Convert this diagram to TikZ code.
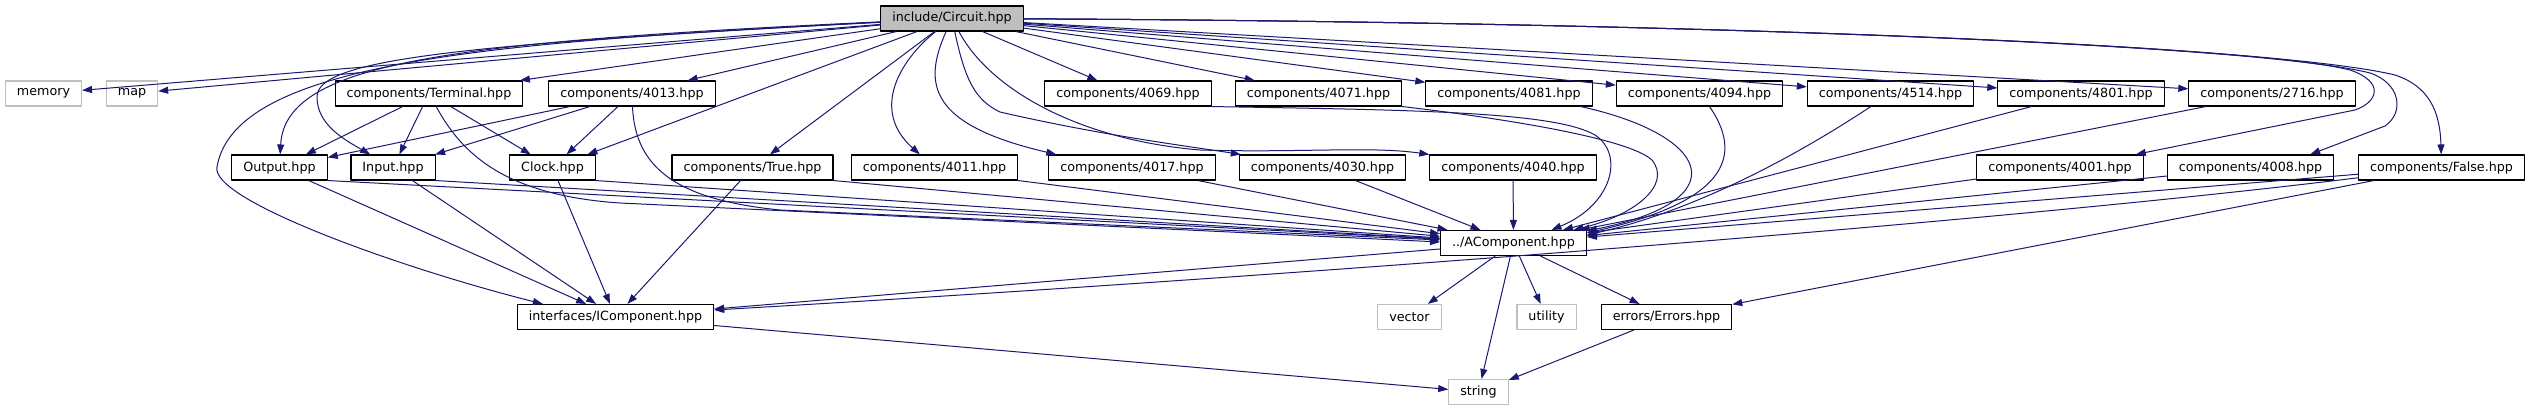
\documentclass[tikz,border=0pt]{standalone}
\usepackage{fontspec}
\setmainfont{DejaVu Sans}
\usetikzlibrary{arrows.meta}
\definecolor{navy}{HTML}{191970}
\definecolor{grey75}{HTML}{BFBFBF}
\begin{document}
\begin{tikzpicture}[x=1pt,y=-1pt,line join=round,line cap=round,
	font=\fontsize{12.7}{15}\selectfont,>={Triangle[length=10pt,width=7pt]},
	hdr/.style={draw=black,fill=white,line width=1.1pt,minimum height=25pt,inner xsep=11.5pt,inner ysep=0pt},
	syshdr/.style={hdr,draw=grey75},
	dep/.style={->,draw=navy,line width=1pt}]
	\useasboundingbox (0,0) rectangle (2530,411);
	% top
	\node[hdr,fill=grey75] (circ) at (952,18.5) {include/Circuit.hpp};
	% first row
	\node[syshdr] (memory) at (43.5,93.5) {memory};
	\node[syshdr] (map) at (132,93.5) {map};
	\node[hdr] (cTerminal) at (429,93.5) {components/Terminal.hpp};
	\foreach \n/\x in {4013/632,4069/1128,4071/1318.5,4081/1509,4094/1699.5,4514/1890.5,4801/2081,2716/2272}
	\node[hdr] (c\n) at (\x,93.5) {components/\n.hpp};
	% second row
	\node[hdr] (outp) at (279.5,167.5) {Output.hpp};
	\node[hdr] (inp) at (393,167.5) {Input.hpp};
	\node[hdr] (clock) at (552.5,167.5) {Clock.hpp};
	\foreach \n/\x in {True/752.5,4011/934.5,4017/1132,4030/1322.5,4040/1513,4001/2060,4008/2250.5,False/2441.5}
	\node[hdr] (c\n) at (\x,167.5) {components/\n.hpp};
	% lower rows
	\node[hdr] (acomp) at (1513.5,243) {../AComponent.hpp};
	\node[hdr] (icomp) at (615.5,317) {interfaces/IComponent.hpp};
	\node[syshdr] (vector) at (1409.5,317) {vector};
	\node[syshdr] (utility) at (1546.5,317) {utility};
	\node[hdr] (errors) at (1666.5,317) {errors/Errors.hpp};
	\node[syshdr] (string) at (1478.5,392) {string};
	
	% includes of Circuit.hpp
	\foreach \t in {memory,map,cTerminal,c4013,clock,cTrue,c4069,c4071,c4081,c4094,c4514,c4801,c2716}
	\draw[dep] (circ) -- (\t);
	\draw[dep] (circ) .. controls (450,42) and (285,62) .. (outp);
	\draw[dep] (circ) .. controls (450,45) and (317,60) .. (317,97) .. controls (317,125) and (345,140) .. (inp);
	\draw[dep] (circ) .. controls (500,42) and (235,60) .. (217,167) .. controls (210,200) and (400,268) .. ([xshift=26pt]icomp.north west);
	\draw[dep] (circ) .. controls (900,60) and (870,110) .. (c4011);
	\draw[dep] (circ) .. controls (922,85) and (930,125) .. ([xshift=8pt]c4017.north west);
	\draw[dep] (circ) .. controls (965,80) and (975,100) .. (1000,112) .. controls (1100,135) and (1180,145) .. ([xshift=2pt]c4030.north west);
	\draw[dep] (circ) .. controls (990,90) and (1080,140) .. (1200,150) .. controls (1300,153) and (1370,146) .. (c4040.north west);
	\draw[dep] (circ) .. controls (1700,22) and (2250,45) .. (2350,70) .. controls (2385,82) and (2378,102) .. (2355,110) -- ([xshift=-8pt]c4001.north east);
	\draw[dep] (circ) .. controls (1700,22) and (2260,45) .. (2370,73) .. controls (2400,83) and (2405,112) .. (2385,126) -- ([xshift=-24pt]c4008.north east);
	\draw[dep] (circ) .. controls (1700,22) and (2270,45) .. (2395,75) .. controls (2428,86) and (2440,110) .. (cFalse);
	
	% into ../AComponent.hpp
	\foreach \s in {outp,inp,clock,cTrue,c4011}
	\draw[dep] (\s.south east) -- (acomp);
	\foreach \s in {c4017,c4030,c4040,c4801,c2716,c4001,c4008,cFalse}
	\draw[dep] (\s) -- (acomp);
	\draw[dep] (cTerminal) .. controls (460,150) and (500,195) .. (620,203) -- ([yshift=1pt]acomp.west);
	\draw[dep] (c4013) .. controls (635,170) and (680,200) .. (780,210) -- ([yshift=3pt]acomp.west);
	\draw[dep] (c4069.south east) .. controls (1420,110) and (1555,112) .. (1595,135) .. controls (1625,155) and (1612,205) .. ([xshift=38pt]acomp.north);
	\draw[dep] (c4071.south east) .. controls (1500,118) and (1628,138) .. (1652,160) .. controls (1672,185) and (1635,215) .. ([xshift=60pt]acomp.north);
	\draw[dep] ([xshift=-12pt]c4081.south east) .. controls (1710,135) and (1740,200) .. ([yshift=-1pt]acomp.north east);
	\draw[dep] ([xshift=10pt]c4094.south) .. controls (1750,165) and (1710,205) .. ([yshift=-3pt]acomp.north east);
	\draw[dep] (c4514) .. controls (1790,160) and (1690,212) .. ([yshift=-5pt]acomp.north east);
	
	% Terminal and 4013
	\foreach \s in {cTerminal,c4013}
	\foreach \t in {outp,inp,clock}
	\draw[dep] (\s) -- (\t);
	
	% into interfaces/IComponent.hpp
	\foreach \s in {outp,inp,clock,cTrue,acomp}
	\draw[dep] (\s) -- (icomp);
	\draw[dep] (cFalse) .. controls (2000,222) and (1300,276) .. ([yshift=7pt]icomp.east);
	
	% bottom
	\foreach \t in {vector,utility,string,errors}
	\draw[dep] (acomp) -- (\t);
	\draw[dep] (cFalse) -- (errors);
	\draw[dep] (errors) -- (string);
	\draw[dep] (icomp) -- (string);
\end{tikzpicture}
\end{document}
